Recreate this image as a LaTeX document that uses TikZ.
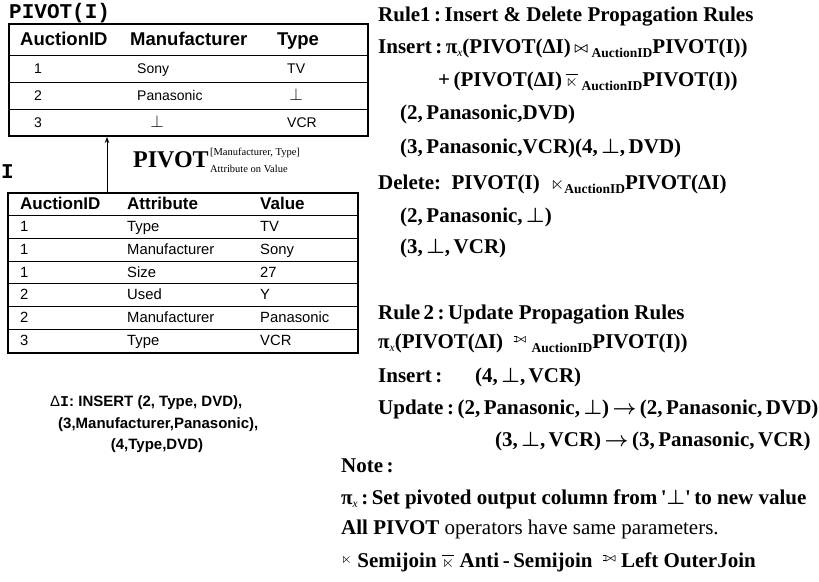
\documentclass[tikz,border=0pt]{standalone}
\usepackage{amssymb}
\usepackage{fontspec}
\setmainfont{Liberation Serif}
\newfontfamily\arialf{Liberation Sans}
\newfontfamily\monof{Liberation Mono}
\usetikzlibrary{arrows.meta}
\newcommand{\fsz}[1]{\fontsize{#1}{#1}\selectfont}
\newcommand{\subtxt}[1]{\raisebox{-4pt}{\fsz{13.5}#1}}
\newcommand{\jn}{\raisebox{1pt}{\fsz{15}$\bowtie$}}
\newcommand{\sj}{{\fsz{18}$\ltimes$}}
\newcommand{\sjs}{\raisebox{4pt}{\fsz{14}$\ltimes$}}
\newcommand{\asj}{{\fsz{16}$\overline{\ltimes}$}}
\newcommand{\lojsym}{\mbox{\rule[-0.02em]{0.3em}{0.07em}\hspace{-0.3em}\rule[0.5em]{0.3em}{0.07em}$\mkern-1.5mu\bowtie$}}
\newcommand{\loj}{\raisebox{6pt}{\fsz{11}\lojsym}}
\newcommand{\pix}{π\raisebox{-3pt}{\fsz{11.5}\mdseries\itshape x}}
\newcommand{\bt}{$\perp$}
\begin{document}
\begin{tikzpicture}[x=1pt,y=1pt,
  tbox/.style={draw,line width=2pt,anchor=north west,inner sep=0pt},
  rowsep/.style={line width=0.8pt},
  hd/.style={anchor=base west,inner sep=0pt,font=\arialf\bfseries\fsz{18.5}},
  hdi/.style={anchor=base west,inner sep=0pt,font=\arialf\bfseries\fsz{17}},
  cl/.style={anchor=base west,inner sep=0pt,font=\arialf\fsz{14}},
  cli/.style={anchor=base west,inner sep=0pt,font=\arialf\fsz{14.8}},
  clc/.style={anchor=base,inner sep=0pt,font=\arialf\fsz{14}},
  ttl/.style={anchor=base west,inner sep=0pt,font=\monof\bfseries\fsz{21}},
  dl/.style={anchor=base west,inner sep=0pt,font=\arialf\bfseries\fsz{15}},
  rt/.style={anchor=base west,inner sep=0pt,font=\bfseries\boldmath\fsz{21}},
  scr/.style={anchor=base west,inner sep=0pt,font=\fsz{10.5}},
  arr/.style={-{Stealth[length=6pt,width=4.5pt]},line width=0.7pt}]
\useasboundingbox (0,0) rectangle (819,-581);

% ---------- PIVOT(I) table ----------
\node[ttl] (pt) at (9,-18) {PIVOT(I)};
\node[tbox,minimum width=359pt,minimum height=112pt] (ptab) at (8,-23) {};
\draw[rowsep] (8,-55) -- (367,-55);
\draw[rowsep] (8,-82) -- (367,-82);
\draw[rowsep] (8,-109) -- (367,-109);
\node[hd] (ph1) at (20,-45.5) {AuctionID};
\node[hd] (ph2) at (130,-45.5) {Manufacturer};
\node[hd] (ph3) at (277,-45.5) {Type};
\node[cl] (p11) at (34,-73.5) {1};
\node[cl] (p12) at (137,-73.5) {Sony};
\node[cl] (p13) at (287,-73.5) {TV};
\node[cl] (p21) at (34,-100.5) {2};
\node[cl] (p22) at (137,-100.5) {Panasonic};
\node[clc] (p23) at (296,-100.5) {\fsz{17}$\perp$};
\node[cl] (p31) at (34,-127) {3};
\node[clc] (p32) at (157,-127) {\fsz{17}$\perp$};
\node[cl] (p33) at (287,-127) {VCR};

% ---------- I table ----------
\node[ttl] (it) at (1,-178) {I};
\node[tbox,minimum width=350pt,minimum height=160pt] (itab) at (7,-192) {};
\foreach \yy in {215,238,261,283,306,329}
  \draw[rowsep] (7,-\yy) -- (357,-\yy);
\node[hdi] (ih1) at (20,-209.5) {AuctionID};
\node[hdi] (ih2) at (127,-209.5) {Attribute};
\node[hdi] (ih3) at (260,-209.5) {Value};
\node[cli] (i11) at (20,-231.5) {1};
\node[cli] (i12) at (127,-231.5) {Type};
\node[cli] (i13) at (260,-231.5) {TV};
\node[cli] (i21) at (20,-254.5) {1};
\node[cli] (i22) at (127,-254.5) {Manufacturer};
\node[cli] (i23) at (260,-254.5) {Sony};
\node[cli] (i31) at (20,-277) {1};
\node[cli] (i32) at (127,-277) {Size};
\node[cli] (i33) at (260,-277) {27};
\node[cli] (i41) at (20,-299.5) {2};
\node[cli] (i42) at (127,-299.5) {Used};
\node[cli] (i43) at (260,-299.5) {Y};
\node[cli] (i51) at (20,-322.5) {2};
\node[cli] (i52) at (127,-322.5) {Manufacturer};
\node[cli] (i53) at (260,-322.5) {Panasonic};
\node[cli] (i61) at (20,-345.5) {3};
\node[cli] (i62) at (127,-345.5) {Type};
\node[cli] (i63) at (260,-345.5) {VCR};

% ---------- arrow and label ----------
\coordinate (ax) at (107,0);
\draw[arr] (ax |- itab.north) -- (ax |- ptab.south);
\node[anchor=base west,inner sep=0pt,font=\bfseries\fsz{24}] (pl) at (133,-167) {PIVOT};
\node[scr] (plscr) at ([xshift=1pt,yshift=-5.5pt]pl.base east)
  {\begin{tabular}[b]{@{}l@{}}[Manufacturer, Type]\\[7pt]Attribute on Value\end{tabular}};

% ---------- Delta I ----------
\node[dl] (d1) at (50,-406) {{\mdseries Δ}{\monof I}: INSERT (2, Type, DVD),};
\node[dl] (d2) at (58,-428) {(3,Manufacturer,Panasonic),};
\node[anchor=base,inner sep=0pt,font=\arialf\bfseries\fsz{15}] (d3) at (157,-449) {(4,Type,DVD)};

% ---------- right text ----------
\node[rt] (r1) at (378,-21) {Rule1\,:\,Insert \& Delete Propagation Rules};
\node[rt] (r2) at (378,-53) {Insert\,:\,\pix(PIVOT(ΔI)\,\jn\,\subtxt{AuctionID}PIVOT(I))};
\node[rt] (r3) at (438,-86) {+\,(PIVOT(ΔI)\,\asj\,\subtxt{AuctionID}PIVOT(I))};
\node[rt] (r4) at (400,-119) {(2,\,Panasonic,DVD)};
\node[rt] (r5) at (400,-153) {(3,\,Panasonic,VCR)(4,\,\bt,\,DVD)};
\node[rt] (r6) at (378,-189) {Delete:\ \ PIVOT(I)\ \ \sj\subtxt{AuctionID}PIVOT(ΔI)};
\node[rt] (r7) at (400,-222) {(2,\,Panasonic,\,\bt)};
\node[rt] (r8) at (400,-253) {(3,\,\bt,\,VCR)};
\node[rt] (r9) at (378,-319) {Rule\,2\,:\,Update Propagation Rules};
\node[rt] (r10) at (378,-348) {\pix(PIVOT(ΔI)\ \ \loj\ \subtxt{AuctionID}PIVOT(I))};
\node[rt] (r11) at (378,-382) {Insert\,:};
\node[rt] (r11b) at (475,-382) {(4,\,\bt,\,VCR)};
\node[rt] (r12) at (378,-414) {Update\,:\,(2,\,Panasonic,\,\bt)\,$\rightarrow$\,(2,\,Panasonic,\,DVD)};
\node[rt] (r13) at (495,-446) {(3,\,\bt,\,VCR)\,$\rightarrow$\,(3,\,Panasonic,\,VCR)};
\node[rt] (r14) at (341,-472) {Note\,:};
\node[rt] (r15) at (341,-504) {\pix\,:\,Set pivoted output column from\,\textquotesingle\bt\textquotesingle\,to new value};
\node[rt] (r16) at (341,-534) {All PIVOT {\mdseries operators have same parameters.}};
\node[rt] (r17) at (341,-567) {\sjs\ Semijoin \asj\ Anti\,-\,Semijoin\ \ \loj\ Left OuterJoin};
\end{tikzpicture}
\end{document}
